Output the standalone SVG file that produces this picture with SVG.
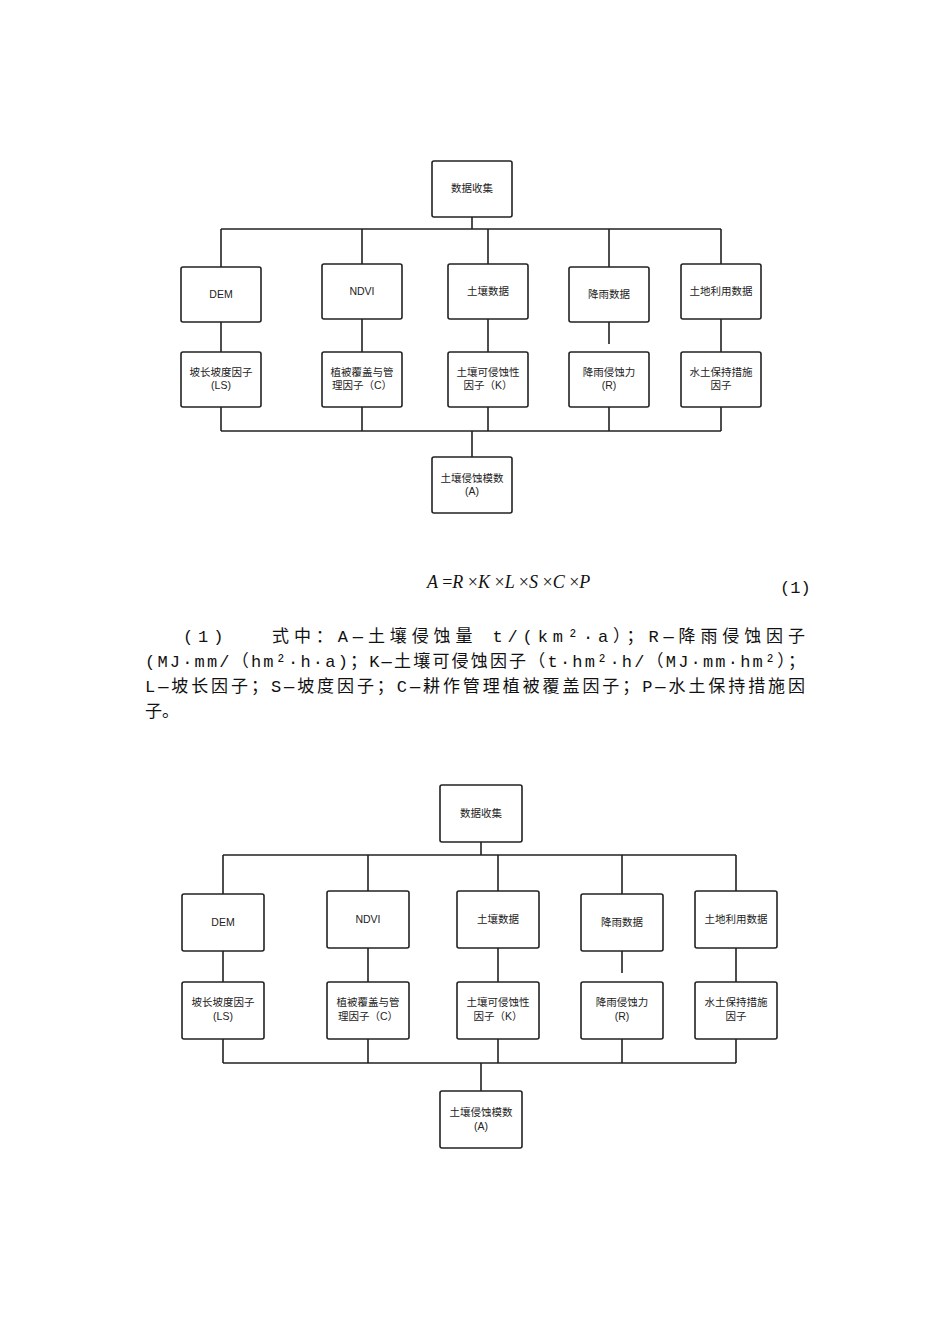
<svg xmlns="http://www.w3.org/2000/svg" width="950" height="1344" viewBox="0 0 950 1344">
<style>
.b{fill:#fff;stroke:#222;stroke-width:1.6}
.c{fill:none;stroke:#222;stroke-width:1.6}
.t{font-family:"Liberation Sans","Noto Sans CJK SC",sans-serif;font-size:10.5px;fill:#222;text-anchor:middle}
.p{font-family:"Liberation Mono","Noto Sans CJK SC",monospace;font-size:17px;fill:#111}
</style>
<rect width="950" height="1344" fill="#fff"/>
<g id="connectors1">
<path class="c" d="M472 217V229M221 229H721M221 229V267M362 229V264M488 229V264M609 229V267M721 229V264"/>
<path class="c" d="M221 322V352M362 319V352M488 319V352M609 322V344M721 319V352"/>
<path class="c" d="M221 407V431M362 407V431M488 407V431M609 407V431M721 407V431M221 431H721M472 431V457"/>
</g>
<g id="n1_top"><rect class="b" x="432" y="161" width="80" height="56" rx="2"/><text class="t" x="472" y="192">数据收集</text></g>
<g id="n1_dem"><rect class="b" x="181" y="267" width="80" height="55" rx="2"/><text class="t" x="221" y="298">DEM</text></g>
<g id="n1_ndvi"><rect class="b" x="322" y="264" width="80" height="55" rx="2"/><text class="t" x="362" y="295">NDVI</text></g>
<g id="n1_soil"><rect class="b" x="448" y="264" width="80" height="55" rx="2"/><text class="t" x="488" y="295">土壤数据</text></g>
<g id="n1_rain"><rect class="b" x="569" y="267" width="80" height="55" rx="2"/><text class="t" x="609" y="298">降雨数据</text></g>
<g id="n1_land"><rect class="b" x="681" y="264" width="80" height="55" rx="2"/><text class="t" x="721" y="295">土地利用数据</text></g>
<g id="n1_ls"><rect class="b" x="181" y="352" width="80" height="55" rx="2"/><text class="t" x="221" y="376">坡长坡度因子</text><text class="t" x="221" y="389">(LS)</text></g>
<g id="n1_c"><rect class="b" x="322" y="352" width="80" height="55" rx="2"/><text class="t" x="362" y="376">植被覆盖与管</text><text class="t" x="362" y="389">理因子（C）</text></g>
<g id="n1_k"><rect class="b" x="448" y="352" width="80" height="55" rx="2"/><text class="t" x="488" y="376">土壤可侵蚀性</text><text class="t" x="488" y="389">因子（K）</text></g>
<g id="n1_r"><rect class="b" x="569" y="352" width="80" height="55" rx="2"/><text class="t" x="609" y="376">降雨侵蚀力</text><text class="t" x="609" y="389">(R)</text></g>
<g id="n1_p"><rect class="b" x="681" y="352" width="80" height="55" rx="2"/><text class="t" x="721" y="376">水土保持措施</text><text class="t" x="721" y="389">因子</text></g>
<g id="n1_a"><rect class="b" x="432" y="457" width="80" height="56" rx="2"/><text class="t" x="472" y="482">土壤侵蚀模数</text><text class="t" x="472" y="495">(A)</text></g>

<text x="427" y="588" font-family="Liberation Serif,serif" font-style="italic" font-size="18" fill="#111">A <tspan font-style="normal">=</tspan>R <tspan font-style="normal">×</tspan>K <tspan font-style="normal">×</tspan>L <tspan font-style="normal">×</tspan>S <tspan font-style="normal">×</tspan>C <tspan font-style="normal">×</tspan>P</text>
<text class="p" x="780" y="593">(1)</text>
<text class="p" x="183" y="642" textLength="622" lengthAdjust="spacing">(1)　　式中：A—土壤侵蚀量 t/(km²·a）；R—降雨侵蚀因子</text>
<text class="p" x="145" y="667" textLength="660" lengthAdjust="spacing">(MJ·mm/（hm²·h·a)；K—土壤可侵蚀因子（t·hm²·h/（MJ·mm·hm²）；</text>
<text class="p" x="145" y="692" textLength="660" lengthAdjust="spacing">L—坡长因子；S—坡度因子；C—耕作管理植被覆盖因子；P—水土保持措施因</text>
<text class="p" x="145" y="717">子。</text>

<g id="connectors2">
<path class="c" d="M481 842V855M223 855H736M223 855V894M368 855V891M498 855V891M622 855V894M736 855V891"/>
<path class="c" d="M223 951V982M368 948V982M498 948V982M622 951V973M736 948V982"/>
<path class="c" d="M223 1039V1063M368 1039V1063M498 1039V1063M622 1039V1063M736 1039V1063M223 1063H736M481 1063V1091"/>
</g>
<g id="n2_top"><rect class="b" x="440" y="785" width="82" height="57" rx="2"/><text class="t" x="481" y="817">数据收集</text></g>
<g id="n2_dem"><rect class="b" x="182" y="894" width="82" height="57" rx="2"/><text class="t" x="223" y="926">DEM</text></g>
<g id="n2_ndvi"><rect class="b" x="327" y="891" width="82" height="57" rx="2"/><text class="t" x="368" y="923">NDVI</text></g>
<g id="n2_soil"><rect class="b" x="457" y="891" width="82" height="57" rx="2"/><text class="t" x="498" y="923">土壤数据</text></g>
<g id="n2_rain"><rect class="b" x="581" y="894" width="82" height="57" rx="2"/><text class="t" x="622" y="926">降雨数据</text></g>
<g id="n2_land"><rect class="b" x="695" y="891" width="82" height="57" rx="2"/><text class="t" x="736" y="923">土地利用数据</text></g>
<g id="n2_ls"><rect class="b" x="182" y="982" width="82" height="57" rx="2"/><text class="t" x="223" y="1006">坡长坡度因子</text><text class="t" x="223" y="1020">(LS)</text></g>
<g id="n2_c"><rect class="b" x="327" y="982" width="82" height="57" rx="2"/><text class="t" x="368" y="1006">植被覆盖与管</text><text class="t" x="368" y="1020">理因子（C）</text></g>
<g id="n2_k"><rect class="b" x="457" y="982" width="82" height="57" rx="2"/><text class="t" x="498" y="1006">土壤可侵蚀性</text><text class="t" x="498" y="1020">因子（K）</text></g>
<g id="n2_r"><rect class="b" x="581" y="982" width="82" height="57" rx="2"/><text class="t" x="622" y="1006">降雨侵蚀力</text><text class="t" x="622" y="1020">(R)</text></g>
<g id="n2_p"><rect class="b" x="695" y="982" width="82" height="57" rx="2"/><text class="t" x="736" y="1006">水土保持措施</text><text class="t" x="736" y="1020">因子</text></g>
<g id="n2_a"><rect class="b" x="440" y="1091" width="82" height="57" rx="2"/><text class="t" x="481" y="1116">土壤侵蚀模数</text><text class="t" x="481" y="1130">(A)</text></g>
</svg>
